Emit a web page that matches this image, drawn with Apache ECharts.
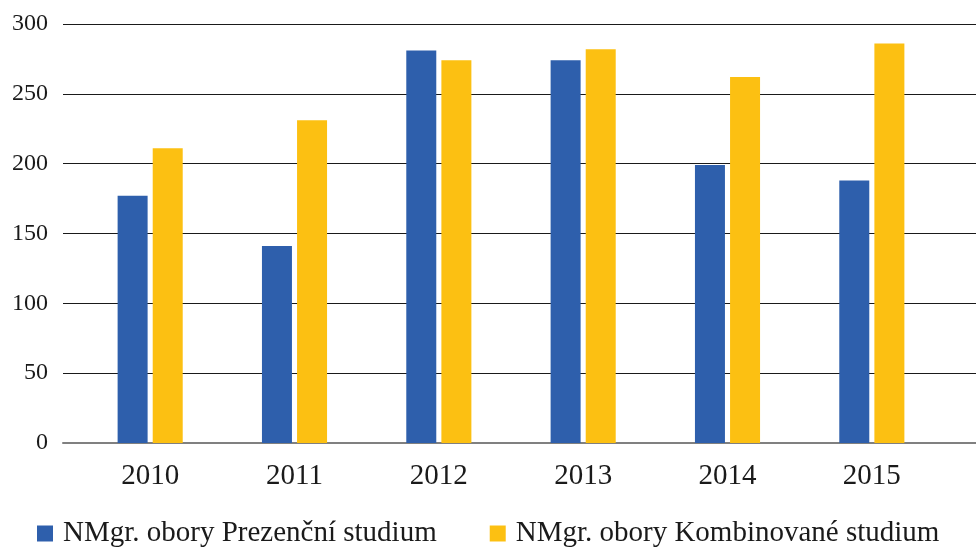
<!DOCTYPE html>
<html>
<head>
    <meta charset="utf-8">
    <title>NMgr. obory</title>
    <script src="https://cdn.jsdelivr.net/npm/echarts@6/dist/echarts.min.js"></script>
    <style>
        html, body { margin: 0; padding: 0; background: #fff; }
    </style>
</head>
<body>
<div id="main" style="width: 976px;height:547px;"></div>
<script type="text/javascript">
    const years = ['2010', '2011', '2012', '2013', '2014', '2015'];
    const prezencni = [177, 141, 281, 274, 199, 188];
    const kombinovane = [211, 231, 274, 282, 262, 286];
    const yTicks = { min: 0, max: 300, interval: 50 };

    const font = '"Liberation Serif", "DejaVu Serif", serif';
    const myChart = echarts.init(document.getElementById('main'));

    const option = {
        backgroundColor: '#fff',
        animation: false,
        textStyle: { fontFamily: font, color: '#1a1a1a' },
        grid: [
            // grid for the horizontal lines and y labels
            { left: 63, right: 0, top: 24, bottom: 104 },
            // grid for the bars
            { left: 78, right: 32, top: 24, bottom: 104 }
        ],
        xAxis: [
            {
                gridIndex: 0, type: 'value', min: 0, max: 1,
                axisLine: { show: true, lineStyle: { color: '#808080', width: 2 } },
                axisTick: { show: false }, axisLabel: { show: false }, splitLine: { show: false }
            },
            {
                gridIndex: 1, type: 'category', data: years,
                axisLine: { show: false }, axisTick: { show: false },
                axisLabel: { fontFamily: font, fontSize: 29, color: '#1a1a1a', margin: 19 }
            }
        ],
        yAxis: [
            {
                gridIndex: 0, type: 'value', min: yTicks.min, max: yTicks.max, interval: yTicks.interval,
                axisLine: { show: false }, axisTick: { show: false },
                axisLabel: { fontFamily: font, fontSize: 24, color: '#1a1a1a', margin: 15 },
                splitLine: { lineStyle: { color: '#1a1a1a', width: 1.2 } }
            },
            {
                gridIndex: 1, type: 'value', min: yTicks.min, max: yTicks.max, interval: yTicks.interval,
                show: false, splitLine: { show: false }
            }
        ],
        legend: {
            left: 32, top: 514,
            itemWidth: 16, itemHeight: 16, itemGap: 53,
            icon: 'rect',
            textStyle: { fontFamily: font, fontSize: 29, color: '#1a1a1a', padding: [0, 0, 0, 5] },
            data: ['NMgr. obory Prezenční studium', 'NMgr. obory Kombinované studium']
        },
        series: [
            {
                name: 'NMgr. obory Prezenční studium', type: 'bar',
                xAxisIndex: 1, yAxisIndex: 1,
                barWidth: 30, barGap: '17%',
                itemStyle: { color: '#2E5FAC' },
                data: prezencni
            },
            {
                name: 'NMgr. obory Kombinované studium', type: 'bar',
                xAxisIndex: 1, yAxisIndex: 1,
                barWidth: 30, barGap: '17%',
                itemStyle: { color: '#FCC012' },
                data: kombinovane
            }
        ]
    };

    myChart.setOption(option);
</script>
</body>
</html>
